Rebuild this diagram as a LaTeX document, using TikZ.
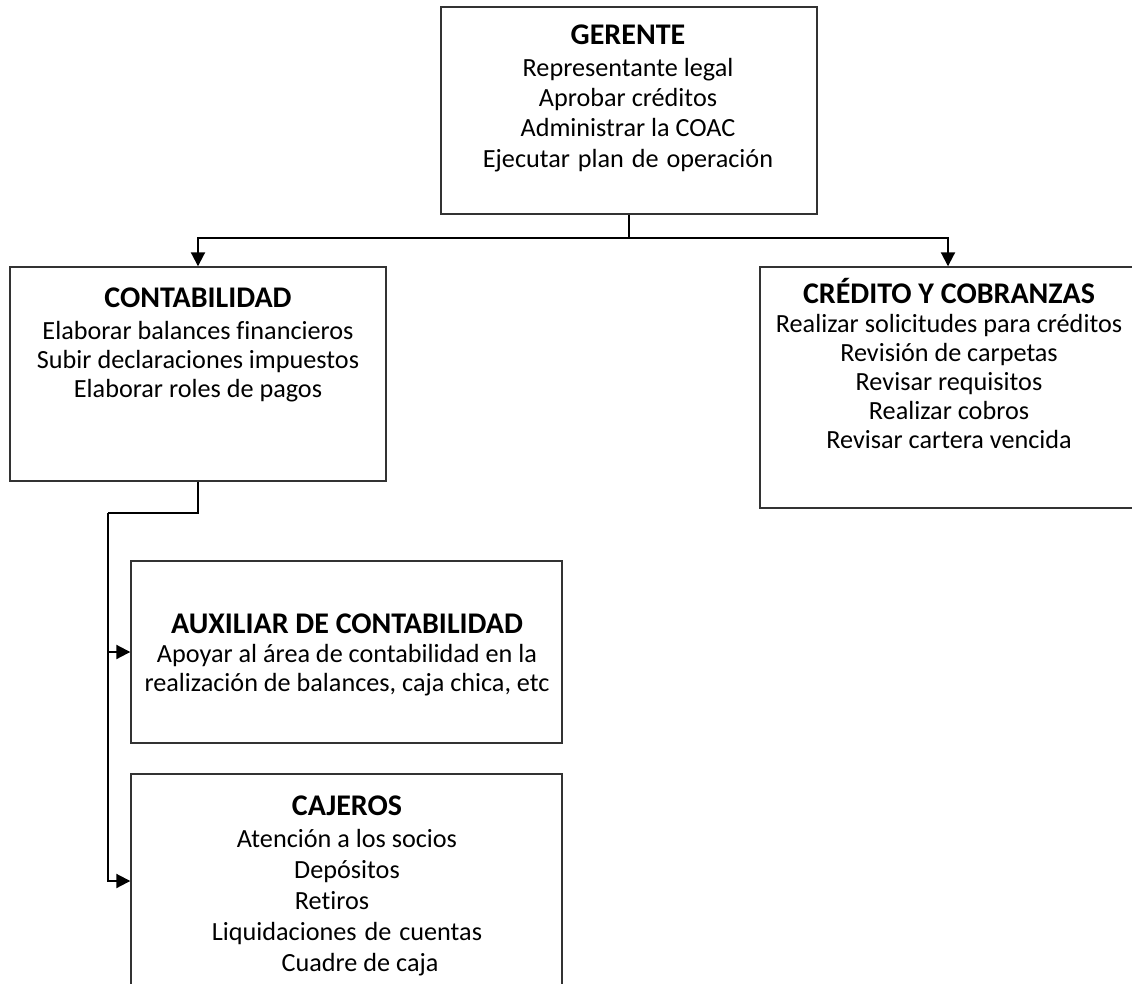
\documentclass[tikz,border=0pt]{standalone}
\usepackage{fontspec}
\setmainfont{Carlito}[Ligatures=NoCommon]
\usetikzlibrary{arrows.meta}
\newcommand{\hd}[1]{{\fontsize{30}{30}\selectfont\bfseries #1}}
\newenvironment{txt}[1]{\fontsize{26.2}{#1}\selectfont\renewcommand{\arraystretch}{1}\begin{tabular}[t]{@{}c@{}}}{\end{tabular}}
\begin{document}
\begin{tikzpicture}[x=1pt,y=-1pt,
  box/.style={draw=black!80, line width=1.4pt, fill=none, inner sep=0pt, rectangle},
  txtnode/.style={inner sep=0pt, anchor=base},
  conn/.style={draw=black, line width=2pt, -{Triangle[length=14pt,width=14pt]}},
  line/.style={draw=black, line width=2pt}]
\useasboundingbox (0,0) rectangle (1132,984);
% boxes
\node[box, minimum width=376pt, minimum height=207pt] (ger) at (629,110.5) {};
\node[box, minimum width=376pt, minimum height=214pt] (con) at (198,374) {};
\node[box, minimum width=376pt, minimum height=241pt] (cre) at (948,387.5) {};
\node[box, minimum width=431pt, minimum height=182pt] (aux) at (346.5,652) {};
\node[box, minimum width=431pt, minimum height=214pt] (caj) at (346.5,881) {};
% texts
\node[txtnode] (gert) at (628,45) {\begin{txt}{30.3}\hd{GERENTE}\\[1pt]
Representante legal\\Aprobar créditos\\Administrar la COAC\\Ejecutar\hspace{2pt} plan\hspace{2pt} de\hspace{2pt} operación\end{txt}};
\node[txtnode] (cont) at (198,308) {\begin{txt}{29.2}\hd{CONTABILIDAD}\\[2pt]
Elaborar balances financieros\\Subir declaraciones impuestos\\Elaborar roles de pagos\end{txt}};
\node[txtnode] (cret) at (949,303) {\begin{txt}{29.2}\hd{CRÉDITO Y COBRANZAS}\\[0pt]
Realizar solicitudes para créditos\\Revisión de carpetas\\Revisar requisitos\\Realizar cobros\\Revisar cartera vencida\end{txt}};
\node[txtnode] (auxt) at (347,633) {\begin{txt}{29}\hd{AUXILIAR DE CONTABILIDAD}\\[0pt]
Apoyar al área de contabilidad en la\\realización de balances, caja chica, etc\end{txt}};
\node[txtnode] (cajt) at (347,815) {\begin{txt}{31}\hd{CAJEROS}\\[1pt]
Atención a los socios\\Depósitos\\Retiros\hspace*{30pt}\\Liquidaciones\hspace{2pt} de\hspace{2pt} cuentas\\\hspace*{26pt}Cuadre de caja\end{txt}};
% connectors
\coordinate (gj) at (629,238);
\coordinate (cb) at (108,513);
\draw[line] (ger.south) -- (gj);
\draw[conn] (gj) -| (con.north);
\draw[conn] (gj) -| (cre.north);
\draw[line] (con.south) |- (cb);
\draw[conn] (cb) |- (aux.west);
\draw[conn] (cb) |- (caj.west);
\end{tikzpicture}
\end{document}
